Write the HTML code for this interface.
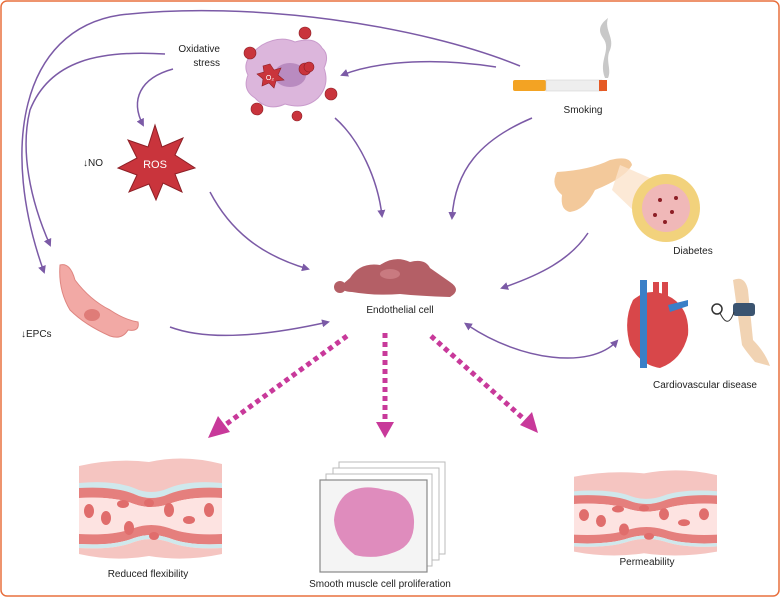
<!DOCTYPE html>
<html><head><meta charset="utf-8"><style>
html,body{margin:0;padding:0;background:#fff;}
svg{display:block;font-family:"Liberation Sans",sans-serif;}
</style></head><body>
<svg width="781" height="598" viewBox="0 0 781 598" xmlns="http://www.w3.org/2000/svg">
<defs>
<marker id="ah" markerWidth="8" markerHeight="8" refX="6" refY="4" orient="auto" markerUnits="userSpaceOnUse">
<path d="M0,0 L8,4 L0,8 Z" fill="#7b5aa6"/></marker>
<marker id="ahs" markerWidth="8" markerHeight="8" refX="2" refY="4" orient="auto-start-reverse" markerUnits="userSpaceOnUse">
<path d="M0,0 L8,4 L0,8 Z" fill="#7b5aa6"/></marker>
<g id="vessel">
<path d="M0,8 Q35,0 70,4 Q105,-4 143,6 L143,36 L0,36 Z" fill="#f5c5c1"/>
<path d="M0,25 Q35,22 55,30 Q72,38 90,30 Q110,22 143,25 L143,32 Q110,28 90,36 Q72,44 55,36 Q35,28 0,32 Z" fill="#cfe8ec"/>
<path d="M0,30 Q35,28 55,36 Q72,44 90,36 Q110,28 143,30 L143,40 Q110,38 90,46 Q72,52 55,46 Q35,38 0,40 Z" fill="#e57f7d"/>
<path d="M0,40 Q35,38 55,46 Q72,52 90,46 Q110,38 143,40 L143,76 Q110,78 90,70 Q72,64 55,70 Q35,78 0,76 Z" fill="#fde3e1"/>
<path d="M0,76 Q35,78 55,70 Q72,64 90,70 Q110,78 143,76 L143,86 Q110,88 90,80 Q72,74 55,80 Q35,88 0,86 Z" fill="#e57f7d"/>
<path d="M0,86 Q35,88 55,80 Q72,74 90,80 Q110,88 143,86 L143,90 Q110,92 90,84 Q72,78 55,84 Q35,92 0,90 Z" fill="#cfe8ec"/>
<path d="M0,90 Q35,92 55,84 Q72,78 90,84 Q110,92 143,90 L143,96 Q105,104 70,98 Q35,104 0,96 Z" fill="#f5c5c1"/>
<g fill="#e06d6c">
<ellipse cx="10" cy="53" rx="5" ry="7"/><ellipse cx="27" cy="60" rx="5" ry="7"/><ellipse cx="44" cy="46" rx="6" ry="4"/>
<ellipse cx="50" cy="70" rx="5" ry="7"/><ellipse cx="70" cy="45" rx="5" ry="4"/><ellipse cx="90" cy="52" rx="5" ry="7"/>
<ellipse cx="75" cy="78" rx="5" ry="4"/><ellipse cx="110" cy="62" rx="6" ry="4"/><ellipse cx="130" cy="52" rx="5" ry="7"/>
</g></g>
</defs>
<rect x="1" y="1" width="778" height="595" rx="6" fill="none" stroke="#e8703e" stroke-width="1.5"/>
<g fill="none" stroke="#7b5aa6" stroke-width="1.5">
<path d="M520,66 C420,25 250,0 120,15 C20,30 0,150 44,272" marker-end="url(#ah)"/>
<path d="M165,54 C100,50 50,60 30,110 C20,150 30,200 50,245" marker-end="url(#ah)"/>
<path d="M173,69 C140,78 130,100 143,125" marker-end="url(#ah)"/>
<path d="M210,192 C230,230 260,255 308,269" marker-end="url(#ah)"/>
<path d="M496,67 C440,58 380,60 342,75" marker-end="url(#ah)"/>
<path d="M335,118 C360,140 378,180 382,216" marker-end="url(#ah)"/>
<path d="M532,118 C480,140 455,170 452,218" marker-end="url(#ah)"/>
<path d="M588,233 C570,260 540,275 502,288" marker-end="url(#ah)"/>
<path d="M170,327 C210,342 270,335 328,322" marker-end="url(#ah)"/>
<path d="M469,326 C520,360 590,370 617,341" marker-start="url(#ahs)" marker-end="url(#ah)"/>
</g>
<!-- dotted arrows -->
<g stroke="#c8399a" stroke-width="5" stroke-dasharray="5 4" fill="none">
<line x1="347" y1="336" x2="225" y2="425"/>
<line x1="385" y1="333" x2="385" y2="420"/>
<line x1="431" y1="336" x2="525" y2="420"/>
</g>
<g fill="#c8399a">
<path d="M208,438 L218,416 L230,432 Z"/>
<path d="M376,422 L394,422 L385,438 Z"/>
<path d="M538,433 L520,425 L532,412 Z"/>
</g>
<!-- macrophage -->
<path d="M262,45 Q280,35 295,42 Q315,36 322,48 Q330,55 324,68 Q330,85 318,98 Q305,110 285,104 Q268,112 255,98 Q242,90 248,75 Q240,60 262,45 Z" fill="#dcb6dc" stroke="#c99bcc"/>
<ellipse cx="290" cy="75" rx="16" ry="12" fill="#b98bc0"/>
<g fill="#c9343c" stroke="#8d1f26" stroke-width="0.6">
<polygon points="270,64 274,70 281,68 278,75 284,80 276,81 274,88 269,83 262,86 263,79 257,74 264,72 263,66"/>
<circle cx="305" cy="33" r="6"/><circle cx="250" cy="53" r="6"/><circle cx="305" cy="69" r="6"/>
<circle cx="331" cy="94" r="6"/><circle cx="257" cy="109" r="6"/><circle cx="297" cy="116" r="5"/><circle cx="309" cy="67" r="5"/>
</g>
<text x="270" y="80" font-size="7" fill="#fff" text-anchor="middle">O₂</text>
<!-- ROS -->
<polygon points="155,125 162,147 183,138 175,155 195,168 175,174 182,192 163,183 156,200 149,184 129,192 137,175 118,168 137,158 128,140 148,147" fill="#c9343c" stroke="#8d1f26"/>
<text x="155" y="168" font-size="11" fill="#fff" text-anchor="middle">ROS</text>
<!-- cigarette -->
<path d="M605,78 C598,60 612,50 603,38 C596,28 603,22 608,18 C604,30 615,38 610,50 C605,60 612,70 608,78 Z" fill="#c8c8c8"/>
<rect x="513" y="80" width="33" height="11" rx="2" fill="#f3a323"/>
<rect x="546" y="80" width="56" height="11" fill="#eeeeee" stroke="#ccc" stroke-width="0.5"/>
<rect x="599" y="80" width="8" height="11" fill="#e55a25"/>
<!-- pancreas -->
<path d="M557,172 Q590,170 610,160 Q630,155 632,165 Q625,178 595,190 Q585,210 570,212 Q560,210 562,195 Q550,185 557,172 Z" fill="#f3c99b"/>
<path d="M620,165 L650,178 L660,236 L612,190 Z" fill="#fbe4cc" opacity="0.8"/>
<circle cx="666" cy="208" r="34" fill="#f2d27c"/>
<circle cx="666" cy="208" r="24" fill="#f0b8b8"/>
<g fill="#8d1f26"><circle cx="660" cy="200" r="2"/><circle cx="672" cy="212" r="2"/><circle cx="655" cy="215" r="2"/><circle cx="676" cy="198" r="2"/><circle cx="665" cy="222" r="2"/></g>
<!-- endothelial -->
<path d="M350,278 Q360,262 380,265 Q395,255 410,262 Q425,258 430,268 Q440,275 450,282 Q462,290 450,297 Q420,296 400,294 Q375,296 352,292 Q340,292 343,284 Z" fill="#b45f66"/>
<ellipse cx="340" cy="287" rx="6" ry="6" fill="#b45f66"/>
<ellipse cx="390" cy="274" rx="10" ry="5" fill="#c97a80"/>
<!-- EPC -->
<path d="M60,265 Q70,262 75,280 Q90,300 110,310 Q125,320 138,322 Q140,332 128,330 Q122,340 110,336 Q85,325 70,310 Q58,290 60,265 Z" fill="#f2a9a5" stroke="#de8580"/>
<ellipse cx="92" cy="315" rx="8" ry="6" fill="#df7c78"/>
<!-- heart -->
<path d="M633,300 Q650,285 672,298 Q690,310 688,335 Q682,360 660,368 Q640,365 630,345 Q623,320 633,300 Z" fill="#d8474a"/>
<rect x="640" y="280" width="7" height="88" fill="#3a7fc7"/>
<rect x="653" y="282" width="6" height="18" fill="#d8474a"/><rect x="662" y="282" width="6" height="18" fill="#d8474a"/>
<path d="M668,305 L688,300 L688,306 L670,312 Z" fill="#3a7fc7"/>
<!-- arm -->
<path d="M733,280 Q745,275 748,290 L753,340 Q765,352 770,366 L755,362 Q745,350 742,345 Z" fill="#f1d3b3"/>
<rect x="733" y="303" width="22" height="13" rx="3" fill="#3b5470"/>
<circle cx="717" cy="309" r="5" fill="none" stroke="#333" stroke-width="1.5"/>
<path d="M720,313 Q728,330 734,312" fill="none" stroke="#333"/>
<!-- vessels -->
<use href="#vessel" x="79" y="458"/>
<use href="#vessel" x="574" y="470" transform="translate(574,470) scale(1,0.85) translate(-574,-470)"/>
<!-- slides -->
<rect x="339" y="462" width="106" height="92" fill="#fff" stroke="#bbb"/>
<rect x="333" y="468" width="106" height="92" fill="#fff" stroke="#bbb"/>
<rect x="326" y="474" width="106" height="92" fill="#fff" stroke="#bbb"/>
<rect x="320" y="480" width="107" height="92" fill="#f4f4f4" stroke="#888" stroke-width="1.2"/>
<path d="M345,495 Q360,483 385,490 Q412,492 414,520 Q415,545 395,552 Q375,560 355,555 Q335,540 334,520 Q335,505 345,495 Z" fill="#df8cbd"/>
<!-- labels -->
<g font-size="10" fill="#222">
<text x="220" y="52" text-anchor="end">Oxidative</text>
<text x="220" y="66" text-anchor="end">stress</text>
<text x="83" y="166">↓NO</text>
<text x="583" y="113" text-anchor="middle">Smoking</text>
<text x="693" y="254" text-anchor="middle">Diabetes</text>
<text x="400" y="313" text-anchor="middle">Endothelial cell</text>
<text x="21" y="337">↓EPCs</text>
<text x="705" y="388" text-anchor="middle">Cardiovascular disease</text>
<text x="148" y="577" text-anchor="middle">Reduced flexibility</text>
<text x="380" y="587" text-anchor="middle">Smooth muscle cell proliferation</text>
<text x="647" y="565" text-anchor="middle">Permeability</text>
</g>
</svg>
</body></html>
